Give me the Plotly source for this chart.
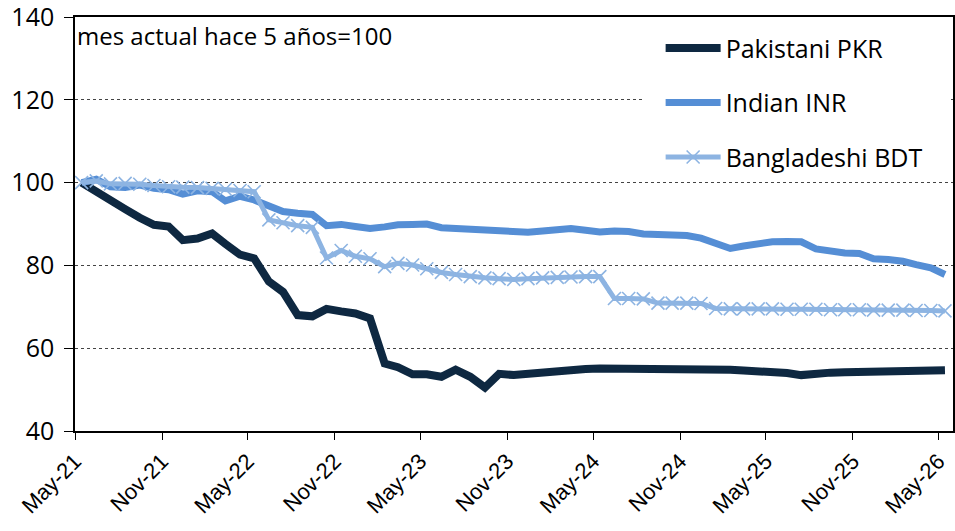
import plotly.graph_objects as go

# =========================
# DATOS (mes actual hace 5 años = 100)
# =========================
FECHAS = [f"{2021 + (4 + i) // 12}-{(4 + i) % 12 + 1:02d}-15" for i in range(61)]

PKR = [100, 98.0, 95.8, 93.6, 91.5, 89.8, 89.4, 86.1, 86.5, 87.7,
       85.2, 82.6, 81.7, 76.1, 73.6, 68.0, 67.7, 69.5, 68.9, 68.4,
       67.2, 56.3, 55.4, 53.7, 53.7, 53.1, 54.8, 53.1, 50.5, 53.8,
       53.5, 53.8, 54.2, 54.7, 54.9, 55.0, 55.1, 55.1, 55.1, 55.0,
       55.0, 55.1, 55.1, 55.0, 54.9, 54.8, 54.6, 54.5, 54.4, 54.0,
       53.5, 53.9, 54.1, 54.2, 54.3, 54.4, 54.5, 54.5, 54.6, 54.6,
       54.7]

INR = [100, 100.8, 99.0, 98.8, 99.4, 98.6, 98.3, 97.2, 98.0, 97.8,
       95.6, 96.7, 95.8, 94.3, 93.0, 92.6, 92.3, 89.6, 89.9, 89.4,
       88.9, 89.3, 89.8, 89.9, 90.0, 89.1, 88.9, 88.8, 88.6, 88.3,
       88.2, 88.0, 88.3, 88.6, 88.9, 88.5, 88.1, 88.3, 88.2, 87.6,
       87.6, 87.5, 87.2, 86.6, 85.4, 84.1, 84.7, 85.3, 85.7, 85.8,
       85.7, 84.0, 83.4, 83.0, 82.9, 81.6, 81.4, 81.0, 80.2, 79.4,
       77.8]

BDT = [100, 100.4, 99.7, 99.8, 99.6, 99.3, 99.0, 98.9, 98.8, 98.6,
       98.4, 98.1, 97.8, 91.0, 90.3, 89.6, 89.2, 81.8, 83.6, 82.2,
       81.6, 79.7, 80.5, 80.1, 79.2, 78.3, 77.8, 77.3, 77.0, 76.8,
       76.6, 76.8, 77.0, 77.1, 77.2, 77.3, 77.3, 72.0, 72.0, 71.9,
       70.9, 70.9, 70.9, 70.8, 69.6, 69.5, 69.5, 69.5, 69.5, 69.4,
       69.4, 69.4, 69.3, 69.3, 69.3, 69.2, 69.2, 69.2, 69.1, 69.1,
       69.0]

SERIES = [
    ("Pakistani PKR", PKR, "#0E2841", 8),
    ("Indian INR", INR, "#558ED5", 7),
    ("Bangladeshi BDT", BDT, "#8DB4E2", 5),
]

fig = go.Figure()

for nombre, valores, color, ancho in SERIES:
    es_bdt = nombre.startswith("Bangladeshi")
    fig.add_trace(go.Scatter(
        x=FECHAS,
        y=valores,
        name=nombre,
        legendgroup=nombre,
        mode="lines+markers" if es_bdt else "lines",
        line=dict(color=color, width=ancho),
        marker=dict(symbol="x-thin", size=13,
                    line=dict(color=color, width=1.6)) if es_bdt else None,
    ))

fig.add_annotation(
    text="mes actual hace 5 años=100",
    xref="paper", yref="paper", x=0.0, y=1.0,
    xanchor="left", yanchor="top", showarrow=False,
    font=dict(family="Open Sans", size=24, color="black"),
)

# fondo blanco del recuadro de la leyenda (tapa la rejilla como en Excel)
fig.add_shape(
    type="rect", xref="paper", yref="paper",
    x0=0.647, x1=0.995, y0=0.62, y1=0.99,
    fillcolor="white", line=dict(width=0), layer="above",
)

fig.update_xaxes(
    type="date",
    range=["2021-05-01", "2026-06-01"],
    tick0="2021-05-01", dtick="M6", tickformat="%b-%y",
    tickangle=-45,
    ticks="outside", ticklen=7, tickcolor="black",
    showline=True, linecolor="black", linewidth=1.5, mirror=True,
    showgrid=False, zeroline=False, automargin=False,
    ticklabeloverflow="allow",
    tickfont=dict(family="Liberation Sans", size=22, color="black"),
)

fig.update_yaxes(
    range=[40, 140], dtick=20,
    ticks="outside", ticklen=9, tickcolor="black",
    showline=True, linecolor="black", linewidth=1.5, mirror=True,
    showgrid=True, gridcolor="#444444", griddash="dot", gridwidth=1,
    zeroline=False, automargin=False, ticklabelstandoff=5,
    ticklabeloverflow="allow",
    tickfont=dict(family="Open Sans", size=25, color="black"),
)

fig.update_layout(
    width=955, height=531,
    margin=dict(l=75, r=2, t=17, b=100),
    paper_bgcolor="white",
    plot_bgcolor="white",
    showlegend=True,
    legend=dict(
        x=0.667, y=0.98, xanchor="left", yanchor="top",
        bgcolor="white",
        font=dict(family="Open Sans", size=25, color="black"),
        traceorder="grouped", tracegroupgap=19,
        itemwidth=55,
    ),
)

# quitar el margen por defecto del <body> para que la figura quede en (0, 0)
fig.write_html(
    "out.html",
    config={"displayModeBar": False},
    post_script="document.body.style.margin='0';",
)
